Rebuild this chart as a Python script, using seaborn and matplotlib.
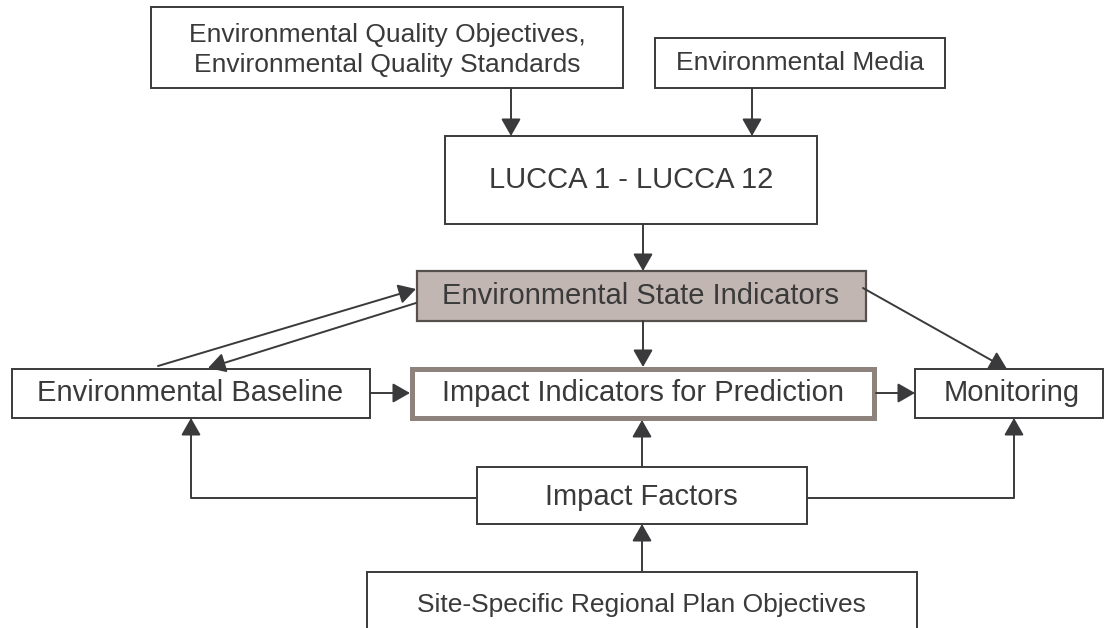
import seaborn as sns
from matplotlib import pyplot as plt
from matplotlib.patches import Rectangle, FancyArrowPatch, ArrowStyle

# box labels
box_names = ['eqo', 'media', 'lucca', 'esi', 'baseline', 'iip', 'monitoring', 'factors', 'site']
box_labels = [
    'Environmental Quality Objectives,\nEnvironmental Quality Standards',
    'Environmental Media',
    'LUCCA 1 - LUCCA 12',
    'Environmental State Indicators',
    'Environmental Baseline',
    'Impact Indicators for Prediction',
    'Monitoring',
    'Impact Factors',
    'Site-Specific Regional Plan Objectives',
]

# connections between boxes (source, target)
links = [
    ('eqo', 'lucca'), ('media', 'lucca'), ('lucca', 'esi'), ('esi', 'iip'),
    ('baseline', 'esi'), ('esi', 'baseline'), ('esi', 'monitoring'),
    ('baseline', 'iip'), ('iip', 'monitoring'),
    ('factors', 'iip'), ('factors', 'baseline'), ('factors', 'monitoring'),
    ('site', 'factors'),
]

# layout in pixels: x0, y0, x1, y1, label x, label y
layout = {
    'eqo': (151, 7, 623, 88, 387, 50),
    'media': (655, 38, 945, 88, 800, 63),
    'lucca': (445, 136, 817, 224, 631, 180),
    'esi': (417, 271, 866, 321, 641, 296),
    'baseline': (12, 369, 370, 418, 190, 393),
    'iip': (412, 369, 874, 418, 643, 393),
    'monitoring': (915, 369, 1103, 418, 1012, 393),
    'factors': (477, 467, 807, 524, 641, 497),
    'site': (367, 572, 917, 660, 641, 605),
}

# connector paths in pixels (start, [via], end)
paths = {
    ('eqo', 'lucca'): [(511, 88), (511, 136)],
    ('media', 'lucca'): [(752, 88), (752, 136)],
    ('lucca', 'esi'): [(643, 224), (643, 271)],
    ('esi', 'iip'): [(643, 321), (643, 367)],
    ('baseline', 'esi'): [(158, 366), (416, 289)],
    ('esi', 'baseline'): [(416, 303), (208, 368)],
    ('esi', 'monitoring'): [(863, 288), (1007, 369)],
    ('baseline', 'iip'): [(370, 393), (410, 393)],
    ('iip', 'monitoring'): [(876, 393), (915, 393)],
    ('factors', 'iip'): [(642, 467), (642, 420)],
    ('factors', 'baseline'): [(477, 498), (191, 498), (191, 418)],
    ('factors', 'monitoring'): [(807, 498), (1014, 498), (1014, 418)],
    ('site', 'factors'): [(642, 572), (642, 524)],
}

sns.set_theme(style='white')
plt.rcParams['font.family'] = ['Liberation Sans', 'DejaVu Sans']

text_color = '#3a3a3a'
line_color = '#3a3a3c'
font_sizes = {'eqo': 19, 'media': 19, 'site': 19}

fig = plt.figure(figsize=(11.06, 6.28), dpi=100)
ax = fig.add_axes([0, 0, 1, 1])
ax.set_xlim(0, 1106)
ax.set_ylim(628, 0)
ax.axis('off')

for name, label in zip(box_names, box_labels):
    x0, y0, x1, y1, tx, ty = layout[name]
    if name == 'esi':
        face, edge, lw = '#c1b6b2', '#57504d', 1.6
    elif name == 'iip':
        face, edge, lw = 'white', '#8e827d', 3.6
    else:
        face, edge, lw = 'white', line_color, 1.4
    ax.add_patch(Rectangle((x0, y0), x1 - x0, y1 - y0, facecolor=face,
                           edgecolor=edge, linewidth=lw, zorder=2))
    ax.text(tx, ty, label, ha='center', va='center', color=text_color,
            fontsize=font_sizes.get(name, 21), linespacing=1.3, zorder=3)

head = ArrowStyle('-|>', head_length=0.7, head_width=0.4)
for link in links:
    pts = paths[link]
    if len(pts) > 2:
        xs = [p[0] for p in pts[:-1]]
        ys = [p[1] for p in pts[:-1]]
        ax.plot(xs, ys, color=line_color, lw=1.4, solid_capstyle='butt', zorder=1)
    arr = FancyArrowPatch(pts[-2], pts[-1], arrowstyle=head, mutation_scale=15,
                          color=line_color, lw=1.4, shrinkA=0, shrinkB=0, zorder=4)
    ax.add_patch(arr)

fig.savefig('out.png', dpi=100, facecolor='white')
